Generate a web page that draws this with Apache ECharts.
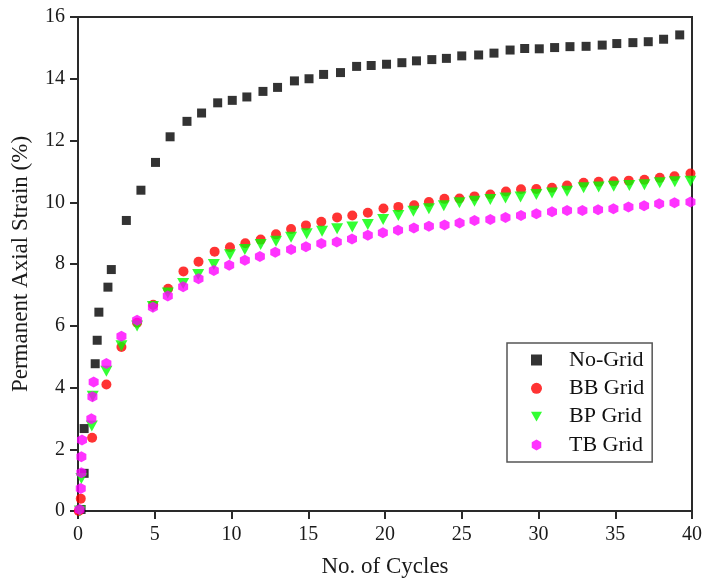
<!DOCTYPE html>
<html>
<head>
<meta charset="utf-8">
<script src="https://cdn.jsdelivr.net/npm/echarts@6/dist/echarts.min.js"></script>
<style>
  html, body { margin: 0; padding: 0; background: #fff; }
  #chart { width: 705px; height: 579px; }
</style>
</head>
<body>
<div id="chart"></div>
<script>
// Permanent axial strain (%) against number of load cycles for four reinforcement cases.
const seriesNames = ['No-Grid', 'BB Grid', 'BP Grid', 'TB Grid'];

const noGridCycles = [0.2, 0.4, 0.4, 1.12, 1.25, 1.36, 1.95, 2.17, 3.15, 4.1, 5.05, 6.0, 7.1, 8.05, 9.1, 10.05, 11.0, 12.05, 13.0, 14.1, 15.05, 16.0, 17.1, 18.15, 19.1, 20.1, 21.1, 22.05, 23.05, 24.0, 25.0, 26.1, 27.1, 28.15, 29.1, 30.05, 31.05, 32.05, 33.1, 34.15, 35.1, 36.15, 37.15, 38.15, 39.2];
const noGridStrain = [0.05, 1.22, 2.67, 4.77, 5.53, 6.44, 7.25, 7.82, 9.41, 10.39, 11.29, 12.12, 12.62, 12.89, 13.22, 13.3, 13.41, 13.59, 13.72, 13.93, 14.0, 14.14, 14.2, 14.4, 14.43, 14.47, 14.52, 14.58, 14.62, 14.66, 14.74, 14.77, 14.83, 14.93, 14.98, 14.97, 15.01, 15.04, 15.05, 15.09, 15.14, 15.17, 15.2, 15.28, 15.42];

const bbCycles = [0.05, 0.18, 0.92, 1.85, 2.83, 3.85, 4.9, 5.87, 6.87, 7.85, 8.9, 9.9, 10.9, 11.9, 12.9, 13.88, 14.85, 15.85, 16.88, 17.87, 18.88, 19.9, 20.87, 21.9, 22.86, 23.87, 24.85, 25.83, 26.86, 27.88, 28.86, 29.86, 30.88, 31.86, 32.94, 33.92, 34.9, 35.88, 36.9, 37.9, 38.86, 39.9];
const bbStrain = [0.0, 0.4, 2.37, 4.1, 5.31, 6.1, 6.68, 7.2, 7.76, 8.07, 8.4, 8.54, 8.67, 8.79, 8.96, 9.13, 9.25, 9.37, 9.51, 9.57, 9.66, 9.8, 9.85, 9.9, 10.01, 10.11, 10.12, 10.19, 10.25, 10.35, 10.42, 10.43, 10.47, 10.54, 10.63, 10.66, 10.68, 10.7, 10.73, 10.79, 10.84, 10.93];

const bpCycles = [0.12, 0.22, 0.9, 0.96, 1.85, 2.83, 3.85, 4.88, 5.85, 6.85, 7.83, 8.85, 9.9, 10.87, 11.9, 12.9, 13.88, 14.9, 15.9, 16.88, 17.87, 18.88, 19.88, 20.87, 21.85, 22.86, 23.83, 24.85, 25.83, 26.86, 27.85, 28.83, 29.86, 30.88, 31.86, 32.94, 33.92, 34.9, 35.92, 36.9, 37.9, 38.88, 39.9];
const bpStrain = [0.0, 1.05, 2.75, 3.72, 4.53, 5.35, 5.99, 6.62, 7.06, 7.37, 7.66, 7.98, 8.3, 8.47, 8.63, 8.74, 8.87, 8.98, 9.06, 9.14, 9.2, 9.28, 9.44, 9.57, 9.71, 9.79, 9.89, 9.98, 10.03, 10.09, 10.14, 10.17, 10.25, 10.3, 10.36, 10.47, 10.49, 10.52, 10.54, 10.57, 10.63, 10.66, 10.68];

const tbCycles = [0.1, 0.18, 0.22, 0.22, 0.26, 0.87, 0.94, 1.02, 1.85, 2.83, 3.85, 4.88, 5.85, 6.85, 7.85, 8.85, 9.85, 10.87, 11.85, 12.85, 13.88, 14.85, 15.85, 16.86, 17.85, 18.88, 19.86, 20.85, 21.88, 22.86, 23.88, 24.86, 25.83, 26.86, 27.85, 28.86, 29.86, 30.88, 31.86, 32.86, 33.88, 34.88, 35.86, 36.88, 37.86, 38.86, 39.9];
const tbStrain = [0.05, 0.73, 1.24, 1.76, 2.3, 2.99, 3.7, 4.18, 4.78, 5.66, 6.18, 6.6, 6.96, 7.26, 7.52, 7.79, 7.96, 8.12, 8.24, 8.38, 8.47, 8.56, 8.66, 8.71, 8.81, 8.93, 9.01, 9.09, 9.17, 9.22, 9.26, 9.33, 9.41, 9.44, 9.51, 9.57, 9.63, 9.69, 9.73, 9.73, 9.76, 9.79, 9.85, 9.89, 9.95, 9.98, 10.01];

const xTicks = [0, 5, 10, 15, 20, 25, 30, 35, 40];
const yTicks = [0, 2, 4, 6, 8, 10, 12, 14, 16];

const pairs = (xs, ys) => xs.map((x, i) => [x, ys[i]]);

const serif = '"Liberation Serif", "Times New Roman", serif';
const hexagon = 'path://M0,-1L0.866,-0.5L0.866,0.5L0,1L-0.866,0.5L-0.866,-0.5Z';
const downTriangle = 'path://M0,0L2,0L1,1.75Z';

const chart = echarts.init(document.getElementById('chart'), null, { renderer: 'canvas' });

const axisCommon = {
  axisLine: { show: true, onZero: false, lineStyle: { color: '#2a2a2a', width: 2 } },
  axisTick: { show: true, inside: false, length: 8, lineStyle: { color: '#2a2a2a', width: 2 } },
  splitLine: { show: false },
  nameTextStyle: { fontFamily: serif, fontSize: 23, color: '#1a1a1a' },
  axisLabel: { fontFamily: serif, fontSize: 20, color: '#1a1a1a' }
};

chart.setOption({
  animation: false,
  backgroundColor: '#fff',
  grid: {
    left: 78, top: 17, right: 13, bottom: 68,
    outerBoundsMode: 'none',
    containLabel: false,
    show: true, borderColor: '#2a2a2a', borderWidth: 2, backgroundColor: 'transparent'
  },
  legend: {
    data: [
      { name: seriesNames[0], icon: 'rect' },
      { name: seriesNames[1], icon: 'circle' },
      { name: seriesNames[2], icon: downTriangle },
      { name: seriesNames[3], icon: hexagon }
    ],
    orient: 'vertical',
    left: 507, top: 343,
    padding: [6, 8, 6, 24],
    itemWidth: 11, itemHeight: 11, itemGap: 6.3,
    symbolKeepAspect: true,
    borderColor: '#555', borderWidth: 1.5,
    textStyle: { fontFamily: serif, fontSize: 22, color: '#111', lineHeight: 22, padding: [0, 0, 0, 22] }
  },
  xAxis: Object.assign({}, axisCommon, {
    type: 'value', min: xTicks[0], max: xTicks[xTicks.length - 1], interval: 5,
    name: 'No. of Cycles', nameLocation: 'middle', nameGap: 44,
    axisLabel: Object.assign({}, axisCommon.axisLabel, { margin: 14 })
  }),
  yAxis: Object.assign({}, axisCommon, {
    type: 'value', min: yTicks[0], max: yTicks[yTicks.length - 1], interval: 2,
    name: 'Permanent Axial Strain (%)', nameLocation: 'middle', nameGap: 46, nameRotate: 90,
    axisLabel: Object.assign({}, axisCommon.axisLabel, { margin: 13 })
  }),
  series: [
    { name: seriesNames[0], type: 'scatter', data: pairs(noGridCycles, noGridStrain),
      symbol: 'rect', symbolSize: 9, itemStyle: { color: '#000000' } },
    { name: seriesNames[1], type: 'scatter', data: pairs(bbCycles, bbStrain),
      symbol: 'circle', symbolSize: 10, itemStyle: { color: '#ff0000' } },
    { name: seriesNames[2], type: 'scatter', data: pairs(bpCycles, bpStrain),
      symbol: 'triangle', symbolRotate: 180, symbolSize: [12, 11], itemStyle: { color: '#00ff00' } },
    { name: seriesNames[3], type: 'scatter', data: pairs(tbCycles, tbStrain),
      symbol: hexagon, symbolSize: [10, 11], itemStyle: { color: '#ff00ff' } }
  ]
});
</script>
</body>
</html>
